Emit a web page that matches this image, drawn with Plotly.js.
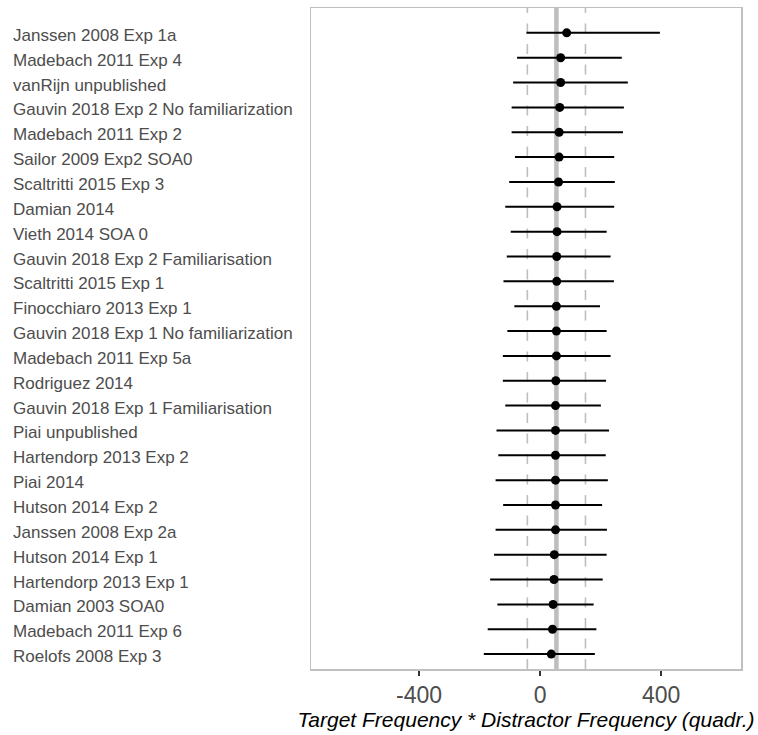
<!DOCTYPE html>
<html>
<head>
<meta charset="utf-8">
<script src="https://cdn.plot.ly/plotly-3.0.1.min.js"></script>
<style>html,body{margin:0;padding:0;background:#fff;}#chart{width:758px;height:735px;}</style>
</head>
<body>
<div id="chart"></div>
<script>
// Studies, top to bottom as in the reference
const studies = [
  "Janssen 2008 Exp 1a",
  "Madebach 2011 Exp 4",
  "vanRijn unpublished",
  "Gauvin 2018 Exp 2 No familiarization",
  "Madebach 2011 Exp 2",
  "Sailor 2009 Exp2 SOA0",
  "Scaltritti 2015 Exp 3",
  "Damian 2014",
  "Vieth 2014 SOA 0",
  "Gauvin 2018 Exp 2 Familiarisation",
  "Scaltritti 2015 Exp 1",
  "Finocchiaro 2013 Exp 1",
  "Gauvin 2018 Exp 1 No familiarization",
  "Madebach 2011 Exp 5a",
  "Rodriguez 2014",
  "Gauvin 2018 Exp 1 Familiarisation",
  "Piai unpublished",
  "Hartendorp 2013 Exp 2",
  "Piai 2014",
  "Hutson 2014 Exp 2",
  "Janssen 2008 Exp 2a",
  "Hutson 2014 Exp 1",
  "Hartendorp 2013 Exp 1",
  "Damian 2003 SOA0",
  "Madebach 2011 Exp 6",
  "Roelofs 2008 Exp 3"
];
const estimate = [88, 68, 68, 65, 63, 63, 61, 56, 56, 55, 55, 54, 54, 54, 52, 51, 51, 51, 51, 51, 51, 47, 46, 43, 41, 37];
const lower    = [-45, -76, -89, -94, -94, -83, -102, -115, -97, -110, -121, -85, -108, -123, -123, -115, -144, -138, -147, -122, -147, -152, -165, -141, -173, -186];
const upper    = [396, 270, 290, 277, 274, 245, 247, 245, 220, 233, 244, 198, 220, 233, 218, 201, 228, 217, 224, 205, 221, 220, 207, 177, 186, 181];

const summaryEstimate = 54;
const summaryLower = -42;
const summaryUpper = 150;

const xTicks = [-400, 0, 400];
const xTitle = "Target Frequency * Distractor Frequency (quadr.)";

const font = "Liberation Sans, Arial, Helvetica, sans-serif";

const trace = {
  type: "scatter",
  mode: "markers",
  x: estimate,
  y: studies,
  marker: {color: "#000000", size: 9},
  error_x: {
    type: "data",
    symmetric: false,
    array: upper.map((u, i) => u - estimate[i]),
    arrayminus: lower.map((l, i) => estimate[i] - l),
    color: "#000000",
    thickness: 2,
    width: 0
  },
  hoverinfo: "x+y",
  showlegend: false
};

const shapes = [
  {type: "line", xref: "x", yref: "paper", x0: summaryEstimate, x1: summaryEstimate, y0: 0, y1: 1,
   line: {color: "#BEBEBE", width: 4.5}, layer: "below"},
  {type: "line", xref: "x", yref: "paper", x0: summaryLower, x1: summaryLower, y0: 0, y1: 1,
   line: {color: "#BEBEBE", width: 1.6, dash: "10px,10.5px"}, layer: "below"},
  {type: "line", xref: "x", yref: "paper", x0: summaryUpper, x1: summaryUpper, y0: 0, y1: 1,
   line: {color: "#BEBEBE", width: 1.6, dash: "10px,10.5px"}, layer: "below"}
];

const annotations = studies.map(s => ({
  xref: "paper", yref: "y", x: -0.6977, y: s, text: s, showarrow: false,
  xanchor: "left", yanchor: "middle", yshift: -2.5,
  font: {family: font, size: 17, color: "#4D4D4D"}
}));

const layout = {
  width: 758, height: 735,
  margin: {l: 311, r: 17, t: 8, b: 66},
  paper_bgcolor: "#FFFFFF", plot_bgcolor: "#FFFFFF",
  font: {family: font, color: "#4D4D4D"},
  xaxis: {
    range: [-757, 664],
    tickvals: xTicks,
    ticktext: xTicks.map(String),
    ticks: "outside", ticklen: 5, tickwidth: 1.5, tickcolor: "#333333",
    tickfont: {family: font, size: 23, color: "#4D4D4D"},
    showgrid: false, zeroline: false,
    showline: true, mirror: true, linecolor: "#C0C0C0", linewidth: 1.5,
    title: {text: "<i>" + xTitle + "</i>", font: {family: font, size: 21, color: "#000000"}, standoff: 4}
  },
  yaxis: {
    type: "category",
    categoryorder: "array",
    categoryarray: studies.slice().reverse(),
    range: [-0.6, 26.0],
    showticklabels: false,
    ticks: "",
    showgrid: false, zeroline: false,
    showline: true, mirror: true, linecolor: "#C0C0C0", linewidth: 1.5
  },
  shapes: shapes,
  annotations: annotations
};

Plotly.newPlot("chart", [trace], layout, {displayModeBar: false, staticPlot: true});
</script>
</body>
</html>
